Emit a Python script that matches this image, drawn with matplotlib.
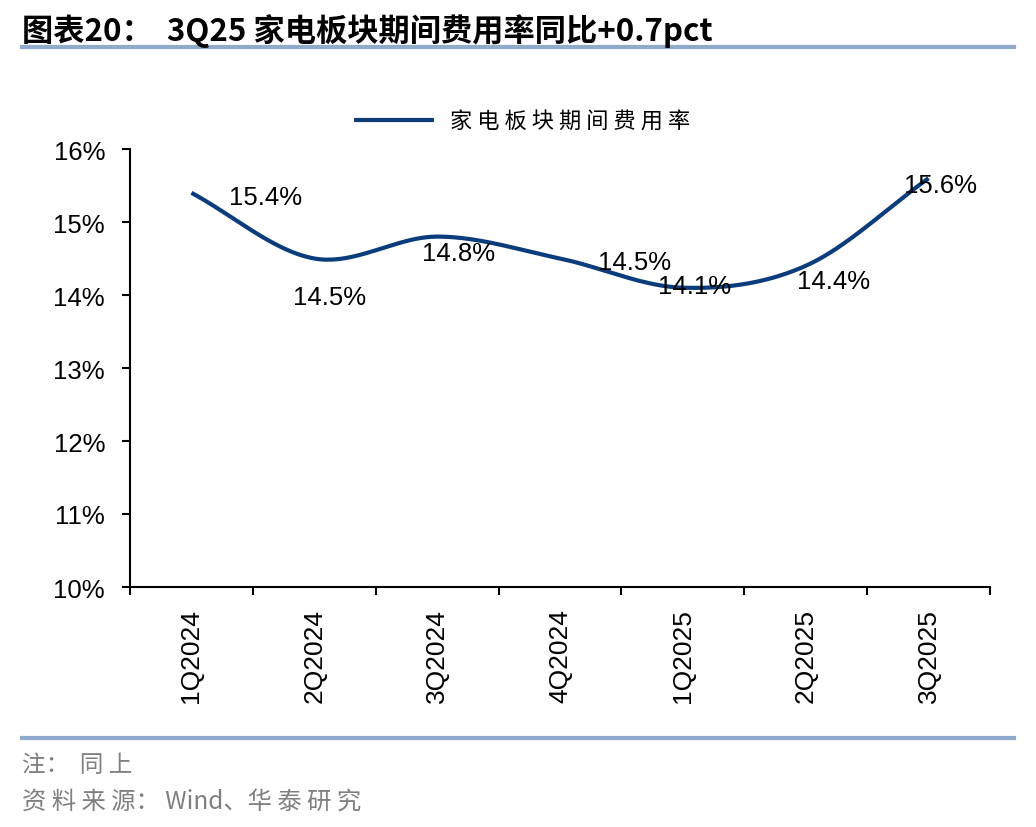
import numpy as np
import matplotlib
matplotlib.use("Agg")
import matplotlib.pyplot as plt
from matplotlib.ticker import FuncFormatter, FixedLocator

plt.rcParams['font.family'] = ['Noto Sans CJK SC', 'DejaVu Sans']

categories = ["1Q2024", "2Q2024", "3Q2024", "4Q2024", "1Q2025", "2Q2025", "3Q2025"]
values = [15.4, 14.5, 14.8, 14.5, 14.1, 14.4, 15.6]
series_name = "家 电 板 块 期 间 费 用 率"
title = "图表20：  3Q25 家电板块期间费用率同比+0.7pct"
note1 = "注：  同 上"
note2 = "资 料 来 源： Wind、华 泰 研 究"

# label offsets in pixels (dx to left edge, dy of centre; positive = up)
label_offsets = [(38, -4), (-21, -38), (-15, -16), (38, -3),
                 (-25, 2), (-9, -15), (-25, -7)]

def smooth(x, y, n=40, tension=0.5):
    x = np.asarray(x, float); y = np.asarray(y, float)
    px = np.concatenate([[2*x[0]-x[1]], x, [2*x[-1]-x[-2]]])
    py = np.concatenate([[2*y[0]-y[1]], y, [2*y[-1]-y[-2]]])
    xs, ys = [], []
    for i in range(1, len(px)-2):
        t = np.linspace(0, 1, n)
        m1x = tension*(px[i+1]-px[i-1]); m2x = tension*(px[i+2]-px[i])
        m1y = tension*(py[i+1]-py[i-1]); m2y = tension*(py[i+2]-py[i])
        h00 = 2*t**3-3*t**2+1; h10 = t**3-2*t**2+t
        h01 = -2*t**3+3*t**2; h11 = t**3-t**2
        xs.append(h00*px[i]+h10*m1x+h01*px[i+1]+h11*m2x)
        ys.append(h00*py[i]+h10*m1y+h01*py[i+1]+h11*m2y)
    return np.concatenate(xs), np.concatenate(ys)

latin = ['Liberation Sans', 'DejaVu Sans']
fs = 18.5

fig = plt.figure(figsize=(10.36, 8.28), dpi=100)
ax = fig.add_axes([130/1036, 1-588/828, 860/1036, 438/828])

x = np.arange(len(categories))
sx, sy = smooth(x, values)
line, = ax.plot(sx, sy, color='#0B3C7C', lw=3.0, solid_capstyle='butt', label=series_name)

for xi, v, (dx, dy) in zip(x, values, label_offsets):
    ax.annotate(f"{v:.1f}%", (xi, v), xytext=(dx, dy), textcoords='offset pixels',
                ha='left', va='center', fontsize=fs, family=latin)

ax.set_xlim(-0.5, len(categories)-0.5)
ax.set_ylim(10, 16)
ax.yaxis.set_major_locator(FixedLocator(np.arange(10, 16.01, 1)))
ax.yaxis.set_major_formatter(FuncFormatter(lambda v, p: f"{v:.0f}%"))
ax.set_xticks(x)
ax.set_xticklabels(categories, rotation=90, fontsize=19, family=latin)
ax.tick_params(axis='x', which='major', length=0, pad=15)
ax.set_xticks(np.arange(-0.5, len(categories)), minor=True)
ax.tick_params(axis='x', which='minor', length=6, width=1.5, direction='out')
ax.tick_params(axis='y', length=6, width=1.5, direction='out', labelsize=fs, pad=12)
for lab in ax.get_yticklabels():
    lab.set_family(latin)
for s in ['top', 'right']:
    ax.spines[s].set_visible(False)
for s in ['left', 'bottom']:
    ax.spines[s].set_linewidth(1.5)

leg = fig.legend(handles=[line], loc='center', bbox_to_anchor=(522/1036, 1-122/828),
                 frameon=False, fontsize=16, handlelength=3.6, handletextpad=0.7)

fig.text(22/1036, 1-31/828, title, fontsize=22.5, fontweight='bold', va='center', ha='left',
         family=['Liberation Sans Narrow', 'Noto Sans CJK SC', 'DejaVu Sans'])
fig.add_artist(plt.Line2D([22/1036, 1014/1036], [1-48/828]*2, color='#91AACB', lw=3))
fig.add_artist(plt.Line2D([22/1036, 1014/1036], [1-739/828]*2, color='#91AACB', lw=3))
fig.text(22/1036, 1-766/828, note1, fontsize=17, color='#7F7F7F', va='center', ha='left')
fig.text(22/1036, 1-802/828, note2, fontsize=17.5, color='#7F7F7F', va='center', ha='left')

fig.savefig("out.png", dpi=100)
